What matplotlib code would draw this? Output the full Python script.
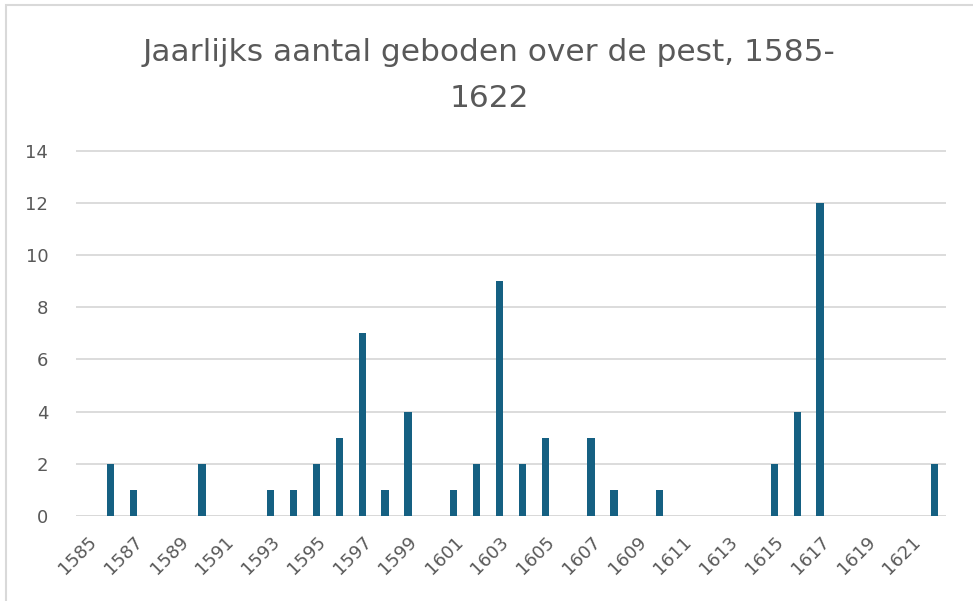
import numpy as np
import matplotlib.pyplot as plt
from matplotlib.patches import Rectangle

years = list(range(1585, 1623))
counts = [0, 2, 1, 0, 0, 2, 0, 0, 1, 1,
          2, 3, 7, 1, 4, 0, 1, 2, 9, 2,
          3, 0, 3, 1, 0, 1, 0, 0, 0, 0,
          2, 4, 12, 0, 0, 0, 0, 2]
title = "Jaarlijks aantal geboden over de pest, 1585-\n1622"

grey = '#595959'
fig = plt.figure(figsize=(9.73, 6.01), dpi=100)
ax = fig.add_axes([76 / 973, 1 - 516 / 601, 870 / 973, 366 / 601])

x = np.arange(len(years))
ax.bar(x, counts, width=0.32, color='#156082', zorder=3)

ax.set_xlim(-0.5, len(years) - 0.5)
ax.set_ylim(0, 14.03)
ax.set_yticks(range(0, 15, 2))
ax.yaxis.grid(True, color='#D9D9D9', linewidth=1.3, zorder=0)
for s in ax.spines.values():
    s.set_visible(False)
ax.axhline(0, color='#D9D9D9', linewidth=1.3, zorder=1)

ax.set_xticks(x[::2])
ax.set_xticklabels([str(y) for y in years[::2]], rotation=45, ha='right',
                   rotation_mode='anchor', fontsize=13, color=grey)
ax.tick_params(axis='x', length=0, pad=12)
ax.tick_params(axis='y', length=0, pad=20, labelsize=13, labelcolor=grey)

fig.text(0.503, 0.937, title, ha='center', va='top', fontsize=22.5,
         color=grey, linespacing=1.75)

fig.patches.append(Rectangle((6 / 973, -0.01), 1.1, 1 - 5 / 601 + 0.01,
                             transform=fig.transFigure, fill=False,
                             edgecolor='#D9D9D9', linewidth=1.5))

fig.savefig('out.png', dpi=100)
